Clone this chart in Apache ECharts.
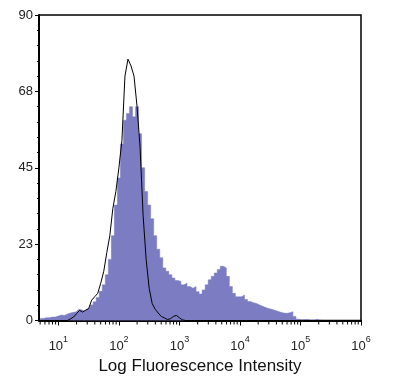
<!DOCTYPE html>
<html><head><meta charset="utf-8">
<script src="https://cdn.jsdelivr.net/npm/echarts@6/dist/echarts.min.js"></script>
<style>html,body{margin:0;padding:0;background:#fff}#c{width:400px;height:385px}</style>
</head><body><div id="c"></div>
<script>
// bin centres in log10(intensity): start + step * index
const binStart = 0.70;
const binStep = 0.05;
// stained sample (filled purple histogram)
const sampleCounts = [0.6,0.6,0.8,0.8,1.0,1.0,1.3,1.6,1.5,1.9,
  2.2,2.4,2.6,3.2,2.9,3.4,3.8,4.6,5.5,6.8,
  8.6,10.5,13.5,18,25,34,42,52,59,61,
  63,60,63,55,45,38,34,30,25,21,
  18.5,15.5,14.5,13.5,12.5,11.8,11.5,10.5,11,10,
  9.5,10,8.5,7.8,9,10.5,12,13,14,15,
  16,15.5,13,10,8,7,7,7.5,6.2,5.6,
  5.2,5,4.6,4.2,3.8,3.5,3.3,3,2.7,2.4,
  2.2,2.1,2.3,2.6,1.2,0.4,0.2,0.3,0.3,0.1,
  0.1,0.4,0.1,0,0,0,0,0,0,0,0,0,0,0,0,0];
// isotype control (black outline)
const controlCounts = [0,0,0,0,0,0,0,0,0,0,
  0.5,1,2,3,2.5,3,3.5,6,7,8,
  11,14.5,20,25,33,38,45,53,72,77,
  75,72,63,51,31,18,9.5,5,3.3,2.2,
  1.2,0.8,0.3,0.5,1.2,1.5,0.8,0.2,0,0,
  0,0,0,0,0,0,0,0,0,0,0,0,0,0,0,0,0,0,0,0,
  0,0,0,0,0,0,0,0,0,0,0,0,0,0,0,0,0,0,0,0,
  0,0,0,0,0,0,0,0,0,0,0,0,0,0,0,0];
const yTicks = [0, 23, 45, 68, 90];
const xDecades = [1, 2, 3, 4, 5, 6];
const xTitle = 'Log Fluorescence Intensity';

const xMin = 0.68, xMax = 6;
const binX = sampleCounts.map((_, i) => +(binStart + binStep * i).toFixed(3));
const sampleData = sampleCounts.map((v, i) => [binX[i], v]);
const controlData = controlCounts.map((v, i) => [binX[i], v]);
// minor log ticks (2..9 within each decade)
const minorTicks = [];
for (let d = 0; d < 6; d++) for (let k = 2; k <= 9; k++) {
  const L = d + Math.log10(k);
  if (L >= xMin && L <= xMax) minorTicks.push([L, 0]);
}
const FONT = 'Liberation Sans, Arial, sans-serif';

const chart = echarts.init(document.getElementById('c'), null, {renderer: 'canvas'});
chart.setOption({
  animation: false,
  backgroundColor: '#fff',
  grid: {left: 39, right: 39, top: 15, bottom: 64.5, show: true, borderColor: '#000', borderWidth: 1.5},
  xAxis: {
    type: 'value', min: xMin, max: xMax,
    axisLine: {show: true, onZero: false, lineStyle: {color: '#000', width: 2}},
    axisTick: {show: true, length: 5, lineStyle: {color: '#000', width: 1}},
    splitLine: {show: false},
    axisLabel: {
      showMinLabel: false, margin: 15, color: '#222', fontFamily: FONT,
      formatter: v => '{b|10}{s|' + xDecades[Math.round(v) - 1] + '}',
      rich: {
        b: {fontSize: 13, fontFamily: FONT, color: '#222', verticalAlign: 'bottom'},
        s: {fontSize: 9, fontFamily: FONT, color: '#222', verticalAlign: 'top', padding: [0, 0, 8, 0]}
      }
    },
    name: xTitle, nameLocation: 'middle', nameGap: 30,
    nameTextStyle: {fontSize: 17, color: '#111', fontFamily: FONT}
  },
  yAxis: {
    type: 'value', min: 0, max: 90, interval: 22.5,
    axisLine: {show: true, lineStyle: {color: '#000', width: 2}},
    axisTick: {show: true, length: 4, lineStyle: {color: '#000', width: 1}},
    minorTick: {show: true, splitNumber: 5, length: 2, lineStyle: {color: '#000', width: 1}},
    splitLine: {show: false},
    axisLabel: {
      margin: 6, fontSize: 13, color: '#222', fontFamily: FONT,
      formatter: v => String(yTicks[Math.round(v / 22.5)])
    }
  },
  series: [
    {
      type: 'line', data: sampleData, step: 'middle', showSymbol: false, symbol: 'none',
      lineStyle: {color: '#7c7cc2', width: 0.5}, areaStyle: {color: '#7c7cc2', opacity: 1},
      silent: true, z: 2
    },
    {
      type: 'line', data: controlData, showSymbol: false, symbol: 'none',
      lineStyle: {color: '#000', width: 1}, silent: true, z: 3
    },
    {
      type: 'custom', data: minorTicks, clip: false, silent: true, z: 4,
      renderItem: (params, api) => {
        const p = api.coord([api.value(0), 0]);
        return {type: 'line', shape: {x1: p[0], y1: p[1] + 1, x2: p[0], y2: p[1] + 4},
          style: {stroke: '#000', lineWidth: 1}};
      }
    }
  ]
});
</script></body></html>
